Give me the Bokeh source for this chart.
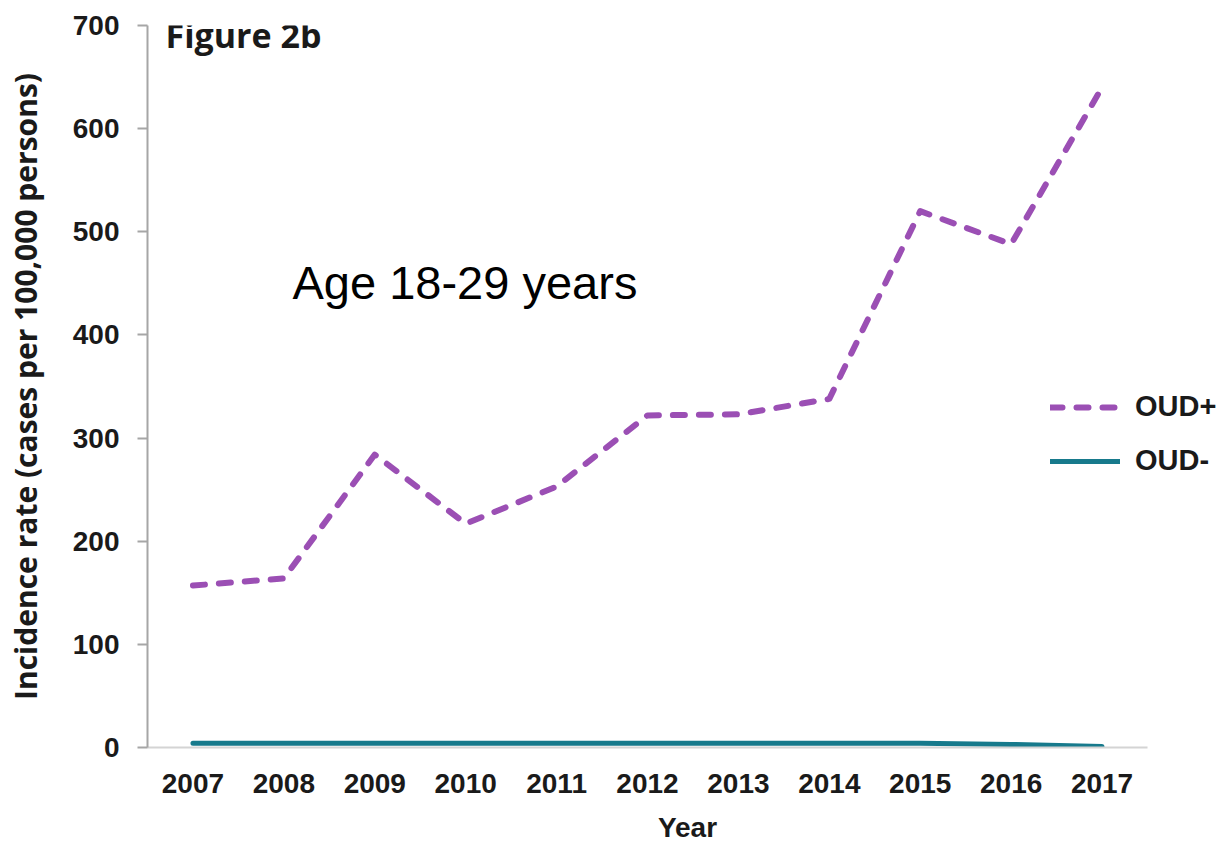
from bokeh.plotting import figure
from bokeh.models import Legend, LegendItem, Label, FixedTicker, Range1d
from bokeh.embed import file_html
from bokeh.resources import INLINE

# Incidence rate (cases per 100,000 persons), age 18-29 years
years = [2007, 2008, 2009, 2010, 2011, 2012, 2013, 2014, 2015, 2016, 2017]
oud_pos = [157, 164, 284, 217, 253, 322, 323, 338, 520, 488, 640]
oud_neg = [4, 4, 4, 4, 4, 4, 4, 4, 4, 3, 1]
y_ticks = [0, 100, 200, 300, 400, 500, 600, 700]

PURPLE = "#9b4fb4"
TEAL = "#177a8c"
AXIS_GREY = "#a6a6a6"

# half a year of padding on each side of the data; the extra room on the
# right holds the legend labels
x_lo, x_hi = years[0] - 0.5, years[-1] + 0.5

p = figure(
    width=1227, height=845,
    x_range=Range1d(x_lo, x_hi + 0.88),
    y_range=Range1d(0, 700),
    output_backend="svg",
    toolbar_location=None,
    min_border_left=147, min_border_right=0,
    min_border_top=25, min_border_bottom=97,
    background_fill_color="white",
    border_fill_color="white",
)
p.outline_line_color = None
p.xgrid.grid_line_color = None
p.ygrid.grid_line_color = None

r_pos = p.line(years, oud_pos, line_color=PURPLE, line_width=6,
               line_dash="12 14", line_cap="round", line_join="round")
r_neg = p.line(years, oud_neg, line_color=TEAL, line_width=5,
               line_cap="round", line_join="round")

# y axis
ya = p.yaxis[0]
ya.ticker = FixedTicker(ticks=y_ticks)
ya.axis_line_color = AXIS_GREY
ya.axis_line_width = 2
ya.major_tick_line_color = AXIS_GREY
ya.major_tick_line_width = 2
ya.major_tick_out = 10
ya.major_tick_in = 0
ya.minor_tick_line_color = None
ya.major_label_standoff = 18
ya.major_label_text_font = "Liberation Sans"
ya.major_label_text_font_style = "bold"
ya.major_label_text_font_size = "28px"
ya.major_label_text_color = "#1a1a1a"
ya.axis_label = "Incidence rate (cases per 100,000 persons)"
ya.axis_label_text_font = "Open Sans"
ya.axis_label_text_font_style = "bold"
ya.axis_label_text_font_size = "30px"
ya.axis_label_text_color = "#1a1a1a"
ya.axis_label_standoff = 24

# x axis
xa = p.xaxis[0]
xa.ticker = FixedTicker(ticks=years)
xa.bounds = (x_lo, x_hi)
xa.axis_line_color = "#d4d4d4"
xa.axis_line_width = 2
xa.major_tick_line_color = None
xa.major_tick_out = 0
xa.major_tick_in = 0
xa.minor_tick_line_color = None
xa.major_label_standoff = 26
xa.major_label_text_font = "Liberation Sans"
xa.major_label_text_font_style = "bold"
xa.major_label_text_font_size = "28px"
xa.major_label_text_color = "#1a1a1a"
xa.axis_label = "Year"
xa.axis_label_text_font = "Liberation Sans"
xa.axis_label_text_font_style = "bold"
xa.axis_label_text_font_size = "28px"
xa.axis_label_text_color = "#1a1a1a"
xa.axis_label_standoff = 16

legend = Legend(
    items=[LegendItem(label="OUD+", renderers=[r_pos]),
           LegendItem(label="OUD-", renderers=[r_neg])],
    location=(903, 270),
    glyph_width=70, glyph_height=30, label_height=30,
    spacing=21, padding=0, margin=0, label_standoff=15,
    border_line_color=None, background_fill_alpha=0,
    label_text_font="Liberation Sans", label_text_font_style="bold",
    label_text_font_size="29px", label_text_color="#1a1a1a",
)
p.add_layout(legend)

p.add_layout(Label(x=18, y=713, x_units="screen", y_units="screen",
                   text="Figure 2b", text_font="Open Sans",
                   text_font_style="bold", text_font_size="34px",
                   text_color="#1a1a1a", text_baseline="alphabetic"))
p.add_layout(Label(x=145, y=465, x_units="screen", y_units="screen",
                   text="Age 18-29 years", text_font="Liberation Sans",
                   text_font_size="47px", text_color="black",
                   text_baseline="alphabetic"))

open("out.html", "w").write(file_html(p, INLINE))
